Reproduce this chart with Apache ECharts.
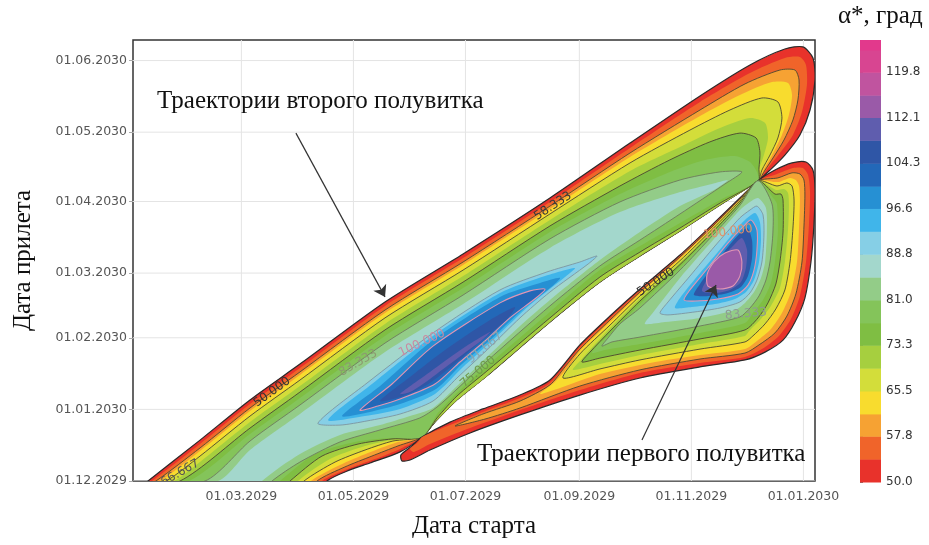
<!DOCTYPE html>
<html>
<head>
<meta charset="utf-8">
<script src="https://cdn.jsdelivr.net/npm/echarts@6/dist/echarts.min.js"></script>
<style>html,body{margin:0;padding:0;background:#fff}#main{width:929px;height:545px}</style>
</head>
<body>
<div id="main"></div>
<script>
// x: days from 01.01.2029 (launch), y: days from 01.12.2029 (arrival)
var xTicks = [59, 120, 181, 243, 304, 365];
var yTicks = [0, 31, 62, 90, 121, 151, 182];
var xBase = Date.UTC(2029, 0, 1);
var yBase = Date.UTC(2029, 11, 1);
var xMax = 371.3, yMax = 190.9;

// colour scale of alpha*
var bandEdges = [50, 53.9, 57.8, 61.6, 65.5, 69.4, 73.3, 77.1, 81.0, 84.9, 88.8, 92.7, 96.6, 100.4, 104.3, 108.2, 112.1, 115.9, 119.8, 123.6, 125.3];
var bandColors = ['#e8322b', '#f0642a', '#f6a233', '#f8dc2e', '#d3dd3a', '#a6cf3f', '#7fbe43', '#84c45a', '#93cc88', '#a3d7cc',
  '#86cfe6', '#40b5ea', '#2690d3', '#2368b8', '#2f56a6', '#5f5dae', '#9a5aa8', '#c0549f', '#d84591', '#e2398c'];
var barTicks = [50.0, 57.8, 65.5, 73.3, 81.0, 88.8, 96.6, 104.3, 112.1, 119.8];
var lineLevels = [50, 58.3, 66.7, 75, 83.3, 91.7, 100, 101, 114];

// pinch points and the gap edge of the second half-turn region
var up = [340.3, 130.0];
var lp = [157.3, 19.0];
var gapA = [[319.6,119.5],[297.8,108.2],[276.0,97.4],[254.2,86.1],[227.0,68.8],[192.7,45.5],[176.4,35.1],[164.4,25.5]];

// second half-turn region, contours of alpha*
var a50 = [[-18.0,-16.9],[8.2,0],[36.5,17.7],[63.7,35.1],[90.9,50.6],[137.2,77.5],[179.7,98.3],[227.0,122.5],[270.6,146.3],[308.7,166.7],[335.9,180.1],[354.9,187.0],[364.7,187.9],[370.2,183.1],[371.3,173.6],[368.6,160.6],[363.1,149.8],[354.9,141.1],[346.8,134.6]]
  .concat([up], gapA, [lp], [[145.4,12.6],[129.0,7.8],[118.1,4.8],[105.6,0],[85.5,-16.9]]);
var a54 = [[-20.1,-16.9],[10.3,0],[36.5,16.0],[63.7,33.3],[90.9,48.9],[137.2,75.8],[179.7,96.5],[227.0,120.8],[270.6,144.2],[308.7,164.1],[335.9,176.6],[354.9,183.1],[363.1,183.5],[366.4,180.1],[366.9,171.4],[364.2,159.7],[359.3,149.8],[352.2,142.0],[345.7,135.5]]
  .concat([up], gapA, [lp], [[145.4,13.9],[131.7,9.5],[117.0,5.2],[102.9,0],[82.7,-16.9]]);
var a58 = [[-22.3,-16.9],[12.5,0],[36.5,14.3],[63.7,31.6],[90.9,47.2],[137.2,74.0],[179.7,94.8],[227.0,119.0],[270.6,142.0],[308.7,160.6],[333.2,171.9],[352.2,177.9],[360.4,177.9],[362.6,173.6],[362.0,164.9],[359.3,156.3],[354.4,147.6],[348.4,139.8],[344.1,134.6]]
  .concat([up], gapA, [lp], [[144.3,15.2],[130.1,10.8],[115.4,6.1],[100.2,0],[78.9,-16.9]]);
var a62 = [[-24.5,-16.9],[14.7,0],[36.5,13.0],[63.7,30.3],[90.9,45.9],[137.2,72.7],[179.7,93.5],[227.0,117.7],[270.6,140.3],[308.7,158.0],[330.4,167.1],[347.9,172.7],[356.6,172.3],[358.8,167.1],[357.1,158.4],[353.3,149.8],[347.9,141.1],[343.5,135.1]]
  .concat([up], gapA, [lp], [[142.6,16.5],[127.9,12.1],[112.7,6.9],[96.9,0],[74.6,-16.9]]);
var a66 = [[-28.9,-16.9],[18.0,0],[36.5,10.8],[63.7,28.1],[90.9,43.7],[137.2,70.6],[179.7,91.3],[227.0,115.6],[270.6,137.7],[303.2,151.9],[325.0,160.6],[342.4,165.8],[351.1,164.1],[353.3,157.1],[351.1,148.5],[346.8,141.1],[342.4,134.6]]
  .concat([up], gapA, [lp], [[141.5,17.3],[126.3,13.4],[110.0,8.2],[93.1,0],[70.2,-16.9]]);
var a71 = [[-33.2,-16.9],[22.3,0],[36.5,8.2],[63.7,25.5],[90.9,41.1],[137.2,68.0],[179.7,88.7],[227.0,113.0],[270.6,134.2],[297.8,144.6],[319.6,152.8],[335.9,157.1],[344.1,155.0],[345.7,148.5],[343.5,141.1],[340.8,134.6]]
  .concat([up], gapA, [lp], [[141.0,17.7],[124.7,14.7],[107.2,9.5],[89.8,0],[66.4,-16.9]]);
var a75 = [[-38.7,-16.9],[25.6,0],[63.7,22.9],[90.9,38.5],[137.2,65.4],[179.7,86.1],[227.0,110.4],[265.1,127.7],[292.3,139.0],[314.1,146.8],[330.4,150.6],[339.2,148.5],[341.3,142.4],[340.8,135.5],
  up,[319.6,120.3],[297.8,109.5],[276.0,99.1],[254.2,88.3],[227.0,70.6],[192.7,47.6],[176.4,36.8],[165.5,27.3],
  lp,[141.0,18.2],[122.5,16.0],[102.9,10.8],[85.5,0],[61.0,-16.9]];
var a79 = [[-44.1,-16.9],[30.5,0],[63.7,20.3],[90.9,35.9],[137.2,62.8],[179.7,83.5],[227.0,107.8],[265.1,124.2],[292.3,133.8],[311.4,139.0],[327.7,140.7],[335.9,138.1],[339.7,133.8],
  up,[320.7,122.1],[297.8,111.7],[276.0,101.7],[254.2,91.3],[227.0,73.2],[192.7,49.8],[176.4,38.1],[166.0,29.4],
  lp,[139.9,18.6],[120.9,16.9],[99.1,11.7],[80.0,0],[55.5,-16.9]];
var a83 = [[-47.9,-16.9],[39.2,0],[63.7,17.3],[90.9,32.9],[137.2,59.7],[179.7,80.5],[227.0,104.8],[265.1,120.8],[297.8,130.3],[319.6,133.8],[331.5,133.8],
  [322.3,128.6],[297.8,115.6],[276.0,104.3],[254.2,93.1],[227.0,75.8],[192.7,51.9],[176.4,39.8],[165.5,32.0],[156.2,27.3],[134.5,22.1],[112.7,16.9],[90.9,8.2],[75.7,0],[52.8,-16.9]];
var a87 = [[-53.4,-16.9],[46.3,0],[63.7,13.4],[90.9,29.0],[137.2,55.8],[179.7,76.6],[227.0,100.9],[265.1,116.4],[297.8,125.1],[315.2,128.6],[323.9,130.3],
  [316.3,126.0],[297.8,119.0],[276.0,107.8],[254.2,95.7],[227.0,78.4],[210.7,67.1],[192.7,53.7],[176.4,41.1],[163.3,31.6],[150.8,28.1],[134.5,24.2],[112.7,19.9],[90.9,11.7],[70.2,0],[50.1,-16.9]];
var a91 = [[100.7,25.1],[127.4,42.4],[163.3,64.1],[199.8,82.7],[225.4,90.5],[243.3,94.8],[252.6,97.4],[247.7,93.9],[227.0,81.8],[210.7,70.6],[192.7,56.7],[176.4,44.6],[163.3,34.6],[145.4,29.0],[127.4,26.0],[112.7,24.2]];
var a95 = [[106.2,26.4],[130.1,42.0],[163.3,62.8],[199.8,81.4],[224.3,88.7],[240.6,92.2],[235.2,88.3],[216.1,76.2],[197.1,61.9],[179.1,48.9],[164.4,37.7],[145.4,31.2],[126.3,28.1]];
var a98 = [[113.8,28.1],[134.5,41.1],[163.3,61.0],[199.8,79.7],[221.6,85.7],[232.5,87.9],[227.0,83.5],[210.7,73.2],[194.4,61.0],[179.1,50.6],[165.0,39.8],[145.4,33.3],[129.0,29.9]];
var a101 = [[123.6,30.7],[141.0,42.0],[163.3,58.4],[199.8,77.1],[216.1,82.3],[224.3,83.1],[219.4,79.2],[205.2,70.6],[191.6,60.6],[178.0,51.5],[164.4,42.0],[145.4,35.5],[133.4,32.5]];
var a104 = [[134.5,34.6],[150.8,45.0],[169.9,56.7],[194.4,69.7],[208.0,75.3],[204.2,70.6],[188.9,60.2],[173.7,49.8],[159.0,41.1],[145.4,36.4]];
var a108 = [[145.4,37.7],[161.7,47.2],[180.7,58.0],[194.4,64.5],[190.0,61.0],[176.9,53.2],[161.7,44.2],[150.8,38.5]];

// first half-turn region
var b50 = [up,[349.5,134.6],[358.8,137.7],[366.4,138.1],[370.2,134.6],[371.3,126.0],[370.7,110.8],[369.1,94.8],[365.8,79.2],[360.4,68.8],[353.9,61.0],[344.1,55.8],[333.2,52.4],[308.7,49.4],[276.0,44.6],[243.3,37.2],[210.7,28.6],[183.5,20.8],[161.7,13.4],[150.8,9.1],[146.4,8.7],[145.9,11.3],[151.9,15.2],
  lp,[172.6,25.5],[190.5,31.2],[210.7,37.2],[227.0,43.7],[243.3,58.9],[259.7,71.4],[276.0,83.1],[297.8,97.8],[315.8,111.3],[330.4,122.5]];
var b54 = [up,[350.6,132.9],[359.3,135.5],[364.7,135.5],[367.5,132.5],[368.6,125.1],[368.0,110.8],[366.4,94.8],[363.1,80.1],[358.2,70.1],[351.7,62.8],[342.4,57.1],[333.2,53.7],[308.7,51.1],[276.0,46.8],[243.3,39.4],[210.7,30.7],[183.5,22.9],[161.7,16.0],[153.0,12.6],[150.8,13.9],[155.2,16.9],
  lp,[172.6,24.2],[190.5,29.9],[210.7,35.9],[227.0,42.4],[243.3,58.0],[259.7,70.6],[276.0,82.5],[297.8,97.4],[315.8,110.8],[330.4,122.2]];
var b58 = [up,[351.1,131.2],[358.8,133.4],[363.1,132.9],[365.3,130.3],[365.8,123.8],[365.3,110.4],[364.2,94.8],[360.9,81.0],[356.0,71.4],[349.5,64.1],[340.8,58.9],[333.2,55.4],[308.7,52.8],[276.0,48.1],[243.3,41.1],[210.7,31.6],[191.6,26.8],[175.3,23.8],
  [190.5,29.0],[210.7,34.6],[227.0,41.6],[235.2,49.4],[243.3,57.1],[259.7,69.7],[276.0,81.8],[297.8,97.0],[315.8,110.4],[330.4,121.9]];
var b62 = [up,[351.1,129.4],[357.7,131.2],[360.9,130.3],[362.6,127.7],[363.1,121.6],[362.6,109.5],[361.5,94.8],[358.2,81.8],[353.3,72.7],[347.3,65.8],[339.7,60.6],[333.2,57.1],[308.7,54.5],[281.5,51.1],[254.2,46.3],[232.5,40.3],[221.6,37.7],
  [229.7,42.9],[237.9,50.2],[243.3,56.3],[259.7,68.8],[276.0,81.2],[297.8,96.3],[315.8,110.0],[330.4,121.6]];
var b66 = [up,[350.6,127.7],[356.0,129.0],[358.8,127.7],[359.9,121.6],[359.3,109.5],[357.7,94.8],[354.9,82.7],[350.0,74.5],[344.1,68.0],[337.5,62.8],[333.2,60.2],[308.7,57.1],[276.0,52.4],[254.2,48.5],[234.1,44.6],
  [243.3,55.0],[259.7,67.5],[276.0,80.1],[297.8,95.4],[315.8,109.3],[330.4,121.2]];
var b71 = [up,[350.0,126.0],[354.4,126.4],[356.6,124.7],[357.1,119.5],[356.6,108.7],[354.9,94.8],[352.2,83.5],[347.3,75.8],[341.3,69.7],[335.4,64.9],[333.2,62.8],[308.7,59.3],[276.0,54.5],[254.2,50.6],[239.5,48.1],
  [243.9,52.4],[259.7,66.2],[276.0,79.0],[297.8,94.6],[315.8,108.7],[330.4,120.8]];
var b75 = [up,[349.5,124.2],[352.8,124.2],[353.9,121.6],[353.9,107.8],[352.2,94.8],[350.0,85.3],[345.7,77.1],[340.3,70.6],[333.2,65.4],[308.7,61.5],[276.0,56.7],[254.2,53.2],[244.4,51.5],
  [248.8,55.8],[259.7,64.9],[276.0,77.9],[297.8,93.7],[315.8,108.0],[330.4,120.3]];
var b79 = [up,[349.0,122.1],[350.6,119.9],[351.1,107.8],[349.5,94.8],[347.3,85.7],[343.0,78.4],[337.5,72.7],[333.2,68.4],[308.7,64.1],[276.0,59.3],[256.9,56.7],[249.9,55.4],
  [253.1,58.9],[259.7,63.6],[276.0,76.6],[297.8,92.7],[315.8,107.4],[330.4,119.9]];
var b83 = [up,[347.9,119.9],[348.4,107.8],[346.8,94.8],[344.6,87.0],[340.8,80.1],[335.9,74.9],[330.4,71.0],[308.7,67.1],[276.0,62.3],[260.8,60.2],[255.3,58.4],
  [258.6,61.9],[265.1,68.0],[276.0,74.9],[297.8,91.3],[315.8,106.5],[330.4,119.3]];
var b87 = [[340.3,122.5],[344.6,118.2],[345.1,107.8],[344.1,94.8],[341.9,87.9],[338.1,81.8],[333.2,77.1],[327.7,74.0],[308.7,70.6],[289.6,68.8],[278.7,68.0],[282.5,72.3],[297.8,87.9],[315.8,104.3],[330.4,117.3],[335.9,120.8]];
var b91 = [[339.7,119.0],[343.0,115.2],[343.5,106.5],[342.4,94.8],[339.7,87.0],[335.9,81.4],[330.4,77.5],[319.6,74.9],[306.0,73.2],[291.3,71.9],[286.9,72.7],[291.3,77.5],[303.2,88.7],[316.8,101.7],[330.4,113.9],[335.9,117.3]];
var b95 = [[338.6,116.0],[341.3,112.1],[341.9,104.3],[340.8,94.8],[338.1,87.0],[333.7,81.8],[327.7,78.8],[316.8,76.6],[304.3,75.3],[295.1,74.9],[297.8,79.2],[308.7,90.0],[320.7,101.3],[331.5,111.7]];
var b100 = [[336.4,113.0],[339.7,108.7],[339.7,100.0],[338.1,91.3],[334.8,84.8],[329.4,81.0],[318.5,78.8],[306.0,77.9],[300.0,78.4],[303.2,82.7],[313.0,92.2],[323.9,103.0],[332.1,110.0]];
var b105 = [[334.3,109.5],[337.0,104.3],[337.0,96.5],[334.8,88.7],[331.0,84.0],[323.9,81.4],[314.1,80.1],[305.4,80.5],[308.7,85.3],[316.8,93.9],[326.1,103.5]];
var b110 = [[331.5,105.2],[334.3,100.0],[333.7,92.2],[331.0,86.1],[325.0,82.7],[316.8,81.4],[309.8,82.3],[313.0,87.9],[319.6,95.7],[326.6,101.7]];
var b114 = [[329.4,100.0],[331.5,94.8],[330.4,88.7],[326.6,84.4],[319.6,83.1],[313.0,84.4],[312.5,89.2],[316.3,94.8],[322.3,98.7]];

var contours = [
  [50, a50], [54, a54], [58.3, a58], [62, a62], [66.7, a66], [71, a71], [75, a75], [79, a79],
  [83.3, a83], [87, a87], [91.7, a91], [95, a95], [98, a98], [101, a101], [104.5, a104], [108.5, a108],
  [50, b50], [54, b54], [58.3, b58], [62, b62], [66.7, b66], [71, b71], [75, b75], [79, b79],
  [83.3, b83], [87, b87], [91.7, b91], [95, b95], [100, b100], [105, b105], [110, b110], [114, b114]
];

// contour labels: text, start day, arrival day, angle, colour
var contourLabels = [
  ['50.000', 75.7, 38.5, 36, '#333'],
  ['58.333', 228.6, 119.0, 33, '#3a3a3a'],
  ['66.667', 25.6, 3.5, 30, '#555'],
  ['83.333', 122.5, 51.1, 30, '#8c9a70'],
  ['100.000', 157.3, 59.7, 25, '#c98aa2'],
  ['91.667', 191.6, 57.6, 40, '#8fa3aa'],
  ['75.000', 187.8, 47.2, 40, '#6f9a4a'],
  ['50.000', 284.7, 86.1, 33, '#333'],
  ['100.000', 323.9, 107.8, 8, '#e0906a'],
  ['83.333', 333.7, 72.3, 5, '#8e9a92']
];
var arrows = [
  [[88.7, 150.6], [137.2, 79.7]],
  [[277.1, 17.7], [317.4, 84.8]]
];

function pad(n) { return (n < 10 ? '0' : '') + n; }
function dateLabel(base, d) {
  var t = new Date(base + Math.round(d) * 864e5);
  return pad(t.getUTCDate()) + '.' + pad(t.getUTCMonth() + 1) + '.' + t.getUTCFullYear();
}
function levelColor(v) {
  for (var i = 0; i < bandColors.length; i++) {
    if (v >= bandEdges[i] && v < bandEdges[i + 1]) return bandColors[i];
  }
  return bandColors[bandColors.length - 1];
}
function lineStyleOf(v) {
  if (lineLevels.indexOf(v) < 0) return null;
  if (v === 50) return ['#2a2a2a', 1.2];
  if (v < 80) return ['#4b4630', 0.9];
  if (v < 90) return ['#6d7a5c', 0.9];
  if (v < 95) return ['#7d95a0', 0.9];
  return ['#e295b4', 1.1];
}

var chart = echarts.init(document.getElementById('main'));
var serif = '"Liberation Serif", "DejaVu Serif", serif';
var sans = '"DejaVu Sans", sans-serif';

var option = {
  animation: false,
  backgroundColor: '#fff',
  grid: [
    { left: 133, right: 114, top: 40, bottom: 64, show: true, borderColor: '#333', borderWidth: 1.5, backgroundColor: '#fff' },
    { left: 860, width: 21, top: 40, height: 442 }
  ],
  xAxis: [
    {
      type: 'value', min: 0, max: xMax, gridIndex: 0,
      name: 'Дата старта', nameLocation: 'middle', nameGap: 33,
      nameTextStyle: { fontFamily: serif, fontSize: 25, color: '#111' },
      axisLine: { show: false },
      axisTick: { show: false },
      splitLine: { show: false },
      axisLabel: {
        customValues: xTicks, margin: 9, color: '#555', fontSize: 12.5, fontFamily: sans,
        formatter: function (v) { return dateLabel(xBase, v); }
      }
    },
    { type: 'value', min: 0, max: 1, gridIndex: 1, show: false }
  ],
  yAxis: [
    {
      type: 'value', min: 0, max: yMax, gridIndex: 0,
      name: 'Дата прилета', nameLocation: 'middle', nameGap: 97, nameRotate: 90,
      nameTextStyle: { fontFamily: serif, fontSize: 25, color: '#111' },
      axisLine: { show: false },
      axisTick: { show: true, customValues: yTicks, length: 4, lineStyle: { color: '#aaa' } },
      splitLine: { show: false },
      axisLabel: {
        customValues: yTicks, margin: 6, color: '#555', fontSize: 12.5, fontFamily: sans,
        formatter: function (v) { return dateLabel(yBase, v); }
      }
    },
    {
      type: 'value', min: 50, max: 125.3, gridIndex: 1, position: 'right',
      axisLine: { show: false },
      axisTick: { show: true, customValues: barTicks, length: 3, lineStyle: { color: '#777' } },
      splitLine: { show: false },
      axisLabel: {
        customValues: barTicks, margin: 5, color: '#333', fontSize: 12, fontFamily: sans,
        formatter: function (v) { return v.toFixed(1); }
      }
    }
  ],
  graphic: [
    { type: 'text', left: 157, top: 89, z: 100, style: { text: 'Траектории второго полувитка', font: '25px ' + serif, fill: '#111' } },
    { type: 'text', left: 477, top: 442, z: 100, style: { text: 'Траектории первого полувитка', font: '25px ' + serif, fill: '#111' } },
    { type: 'text', left: 838, top: 4, z: 100, style: { text: 'α*, град', font: '25px ' + serif, fill: '#111' } }
  ],
  series: [
    {
      // grid lines at the month ticks
      type: 'custom', xAxisIndex: 0, yAxisIndex: 0, silent: true, clip: true, z: 1,
      data: xTicks.map(function (v) { return [v, 0]; }).concat(yTicks.map(function (v) { return [v, 1]; })),
      renderItem: function (params, api) {
        var v = api.value(0), k = api.value(1);
        var p1 = k === 0 ? api.coord([v, 0]) : api.coord([0, v]);
        var p2 = k === 0 ? api.coord([v, yMax]) : api.coord([xMax, v]);
        return { type: 'line', shape: { x1: p1[0], y1: p1[1], x2: p2[0], y2: p2[1] }, style: { stroke: '#e4e4e4', lineWidth: 1 } };
      }
    },
    {
      type: 'custom', xAxisIndex: 0, yAxisIndex: 0, silent: true, clip: true, z: 2,
      data: contours.map(function (c, i) { return [c[1][1][0], c[1][1][1], i]; }),
      renderItem: function (params, api) {
        var c = contours[api.value(2)];
        var pts = c[1].map(function (p) { return api.coord(p); });
        var ls = lineStyleOf(c[0]);
        return {
          type: 'polygon',
          shape: { points: pts, smooth: 0.25 },
          style: { fill: levelColor(c[0]), stroke: ls ? ls[0] : null, lineWidth: ls ? ls[1] : 0 }
        };
      }
    },
    {
      type: 'custom', xAxisIndex: 0, yAxisIndex: 0, silent: true, clip: true, z: 3,
      data: contourLabels.map(function (l, i) { return [l[1], l[2], i]; }),
      renderItem: function (params, api) {
        var l = contourLabels[api.value(2)];
        var p = api.coord([l[1], l[2]]);
        return {
          type: 'text', x: p[0], y: p[1], rotation: l[3] * Math.PI / 180,
          style: { text: l[0], fill: l[4], font: '12px ' + sans, align: 'center', verticalAlign: 'middle' }
        };
      }
    },
    {
      type: 'lines', coordinateSystem: 'cartesian2d', xAxisIndex: 0, yAxisIndex: 0, silent: true, z: 5,
      symbol: ['none', 'arrow'], symbolSize: [0, 11],
      lineStyle: { color: '#333', width: 1.2, opacity: 1, curveness: 0 },
      data: arrows.map(function (a) { return { coords: a }; })
    },
    {
      // colour bar
      type: 'custom', xAxisIndex: 1, yAxisIndex: 1, silent: true,
      data: bandColors.map(function (c, i) { return [0, bandEdges[i], i]; }),
      renderItem: function (params, api) {
        var i = api.value(2);
        var p1 = api.coord([0, bandEdges[i + 1]]);
        var p2 = api.coord([1, bandEdges[i]]);
        return { type: 'rect', shape: { x: p1[0], y: p1[1], width: p2[0] - p1[0], height: p2[1] - p1[1] + 0.5 }, style: { fill: bandColors[i] } };
      }
    }
  ]
};
chart.setOption(option);
</script>
</body>
</html>
